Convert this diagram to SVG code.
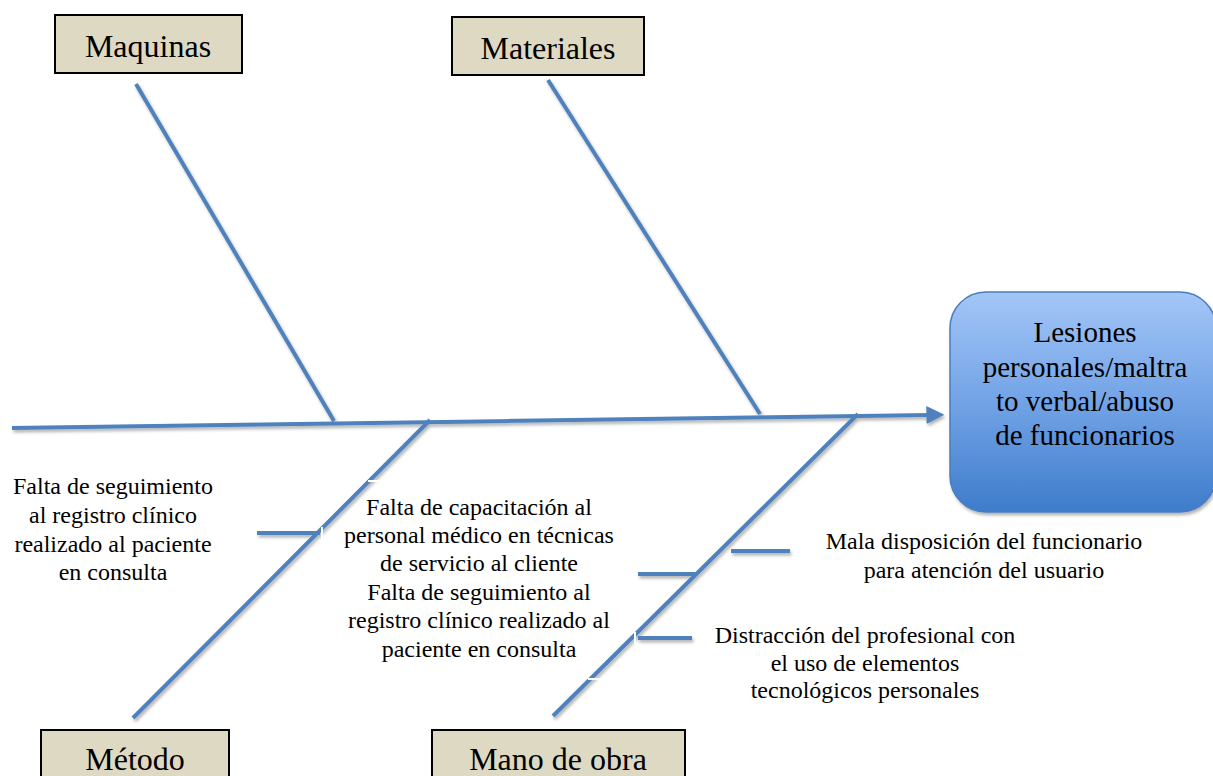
<svg xmlns="http://www.w3.org/2000/svg" width="1213" height="776" viewBox="0 0 1213 776">
<style>
.cat{fill:#DDD9C3;stroke:#000;stroke-width:2}
text{font-family:'Liberation Serif','Times New Roman',serif;fill:#000;text-anchor:middle}
.cl{font-size:32px}
.t{font-size:24px}
.eff{font-size:29px}
.b{stroke:#4F81BD;stroke-width:4;fill:none;stroke-linecap:butt}
.w{stroke:#fff;stroke-width:2}
</style>
<defs>
<linearGradient id="g" x1="0" y1="0" x2="0" y2="1">
<stop offset="0" stop-color="#A3C6F7"/>
<stop offset="0.5" stop-color="#72A3E6"/>
<stop offset="1" stop-color="#3E7CCB"/>
</linearGradient>
<filter id="sh" x="-10%" y="-10%" width="130%" height="130%">
<feDropShadow dx="1.5" dy="2.5" stdDeviation="1.5" flood-color="#000" flood-opacity="0.3"/>
</filter>
<marker id="ah" viewBox="0 0 10 10" refX="2" refY="5" markerWidth="4.5" markerHeight="4.5" orient="auto" markerUnits="strokeWidth">
<path d="M0,0 L10,5 L0,10 z" fill="#4F81BD"/>
</marker>
</defs>
<g id="connectors" filter="url(#sh)">
<line class="b" x1="12" y1="428" x2="930" y2="415" marker-end="url(#ah)"/>
<line class="b" x1="136" y1="84" x2="334" y2="421"/>
<line class="b" x1="548" y1="80" x2="760" y2="414"/>
<line class="b" x1="430" y1="420" x2="133" y2="718"/>
<line class="b" x1="858" y1="414" x2="553" y2="716"/>
<line class="b" x1="257" y1="533" x2="320" y2="533"/>
<line class="b" x1="638" y1="574" x2="695" y2="574"/>
<line class="b" x1="638" y1="638" x2="692" y2="638"/>
<line class="b" x1="731" y1="551" x2="790" y2="551"/>
</g>
<g id="artifacts">
<line class="w" x1="322" y1="527" x2="322" y2="545"/>
<line class="w" x1="368" y1="481" x2="385" y2="481"/>
<line class="w" x1="635" y1="570" x2="635" y2="580"/>
<line class="w" x1="635" y1="632" x2="635" y2="644"/>
<line class="w" x1="588" y1="679" x2="602" y2="679"/>
</g>
<g id="maquinas">
<rect class="cat" x="55" y="15" width="187" height="58"/>
<text class="cl" x="148" y="57">Maquinas</text>
</g>
<g id="materiales">
<rect class="cat" x="452" y="17" width="192" height="58"/>
<text class="cl" x="548" y="59">Materiales</text>
</g>
<g id="metodo">
<rect class="cat" x="41" y="730" width="188" height="52"/>
<text class="cl" x="135" y="770">Método</text>
</g>
<g id="manodeobra">
<rect class="cat" x="432" y="730" width="253" height="52"/>
<text class="cl" x="558" y="770">Mano de obra</text>
</g>
<g id="efecto">
<rect x="950" y="292" width="266" height="220" rx="36" ry="36" fill="url(#g)" stroke="#4A7EBB" stroke-width="1.5" filter="url(#sh)"/>
<text class="eff" x="1085" y="342">Lesiones</text>
<text class="eff" x="1085" y="377">personales/maltra</text>
<text class="eff" x="1085" y="411">to verbal/abuso</text>
<text class="eff" x="1085" y="445">de funcionarios</text>
</g>
<g id="causa-metodo">
<text class="t" x="113" y="494">Falta de seguimiento</text>
<text class="t" x="113" y="523">al registro clínico</text>
<text class="t" x="113" y="552">realizado al paciente</text>
<text class="t" x="113" y="580">en consulta</text>
</g>
<g id="causa-capacitacion">
<text class="t" x="479" y="515">Falta de capacitación al</text>
<text class="t" x="479" y="543">personal médico en técnicas</text>
<text class="t" x="479" y="571">de servicio al cliente</text>
<text class="t" x="479" y="600">Falta de seguimiento al</text>
<text class="t" x="479" y="628">registro clínico realizado al</text>
<text class="t" x="479" y="657">paciente en consulta</text>
</g>
<g id="causa-mala">
<text class="t" x="984" y="549">Mala disposición del funcionario</text>
<text class="t" x="984" y="578">para atención del usuario</text>
</g>
<g id="causa-distraccion">
<text class="t" x="865" y="643">Distracción del profesional con</text>
<text class="t" x="865" y="671">el uso de elementos</text>
<text class="t" x="865" y="698">tecnológicos personales</text>
</g>
</svg>
